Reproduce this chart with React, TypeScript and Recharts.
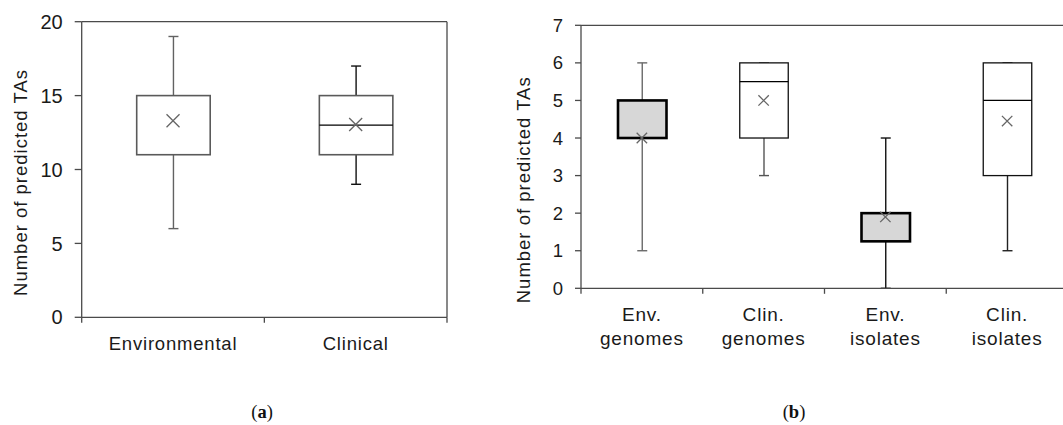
import { ComposedChart, Bar, Scatter, XAxis, YAxis, ReferenceLine } from 'recharts';

const FONT = '"Liberation Sans", Arial, sans-serif';
const AXIS = '#4a4a4a';

// (a) environmental vs clinical genomes
const catsA = ['Environmental', 'Clinical'];
const minA = [6, 9];
const q1A = [11, 11];
const medianA: (number | null)[] = [null, 13];
const q3A = [15, 15];
const maxA = [19, 17];
const meanA = [13.3, 13.05];
const ticksA = [0, 5, 10, 15, 20];

// (b) genomes vs isolates
const catsB = ['Env.\ngenomes', 'Clin.\ngenomes', 'Env.\nisolates', 'Clin.\nisolates'];
const minB = [1, 3, 0, 1];
const q1B = [4, 4, 1.25, 3];
const medianB: (number | null)[] = [4, 5.5, 2, 5];
const q3B = [5, 6, 2, 6];
const maxB = [6, 6, 4, 6];
const meanB = [4, 5, 1.9, 4.45];
const ticksB = [0, 1, 2, 3, 4, 5, 6, 7];

type BoxStyle = { fill: string; stroke: string; sw: number; whisker: string };

const plain: BoxStyle = { fill: '#ffffff', stroke: '#111', sw: 1.3, whisker: '#222' };
const shaded: BoxStyle = { fill: '#d7d7d7', stroke: '#000', sw: 2.6, whisker: '#111' };

const stylesA: BoxStyle[] = [
  { fill: '#ffffff', stroke: '#5a5a5a', sw: 1.6, whisker: '#626262' },
  { fill: '#ffffff', stroke: '#5a5a5a', sw: 1.6, whisker: '#111' },
];
const stylesB: BoxStyle[] = [
  { ...shaded, whisker: '#6a6a6a' },
  { ...plain, whisker: '#555' },
  shaded,
  plain,
];

function buildRows(
  cats: string[], min: number[], q1: number[], median: (number | null)[],
  q3: number[], max: number[], mean: number[],
) {
  return cats.map((name, i) => ({
    name, idx: i, range: [min[i], max[i]],
    min: min[i], q1: q1[i], median: median[i], q3: q3[i], max: max[i], mean: mean[i],
  }));
}

const rowsA = buildRows(catsA, minA, q1A, medianA, q3A, maxA, meanA);
const rowsB = buildRows(catsB, minB, q1B, medianB, q3B, maxB, meanB);

function makeBoxShape(styles: BoxStyle[], capHalf: number) {
  return (props: any) => {
    const { x, y, width, height, payload } = props;
    const top = Math.min(y, y + height);
    const h = Math.abs(height);
    const span = payload.max - payload.min;
    // bar spans [min, max]; map other stats through the same pixel scale
    const toY = (v: number) => top + ((payload.max - v) / span) * h;
    const cx = x + width / 2;
    const s = styles[payload.idx];
    const yMax = toY(payload.max);
    const yMin = toY(payload.min);
    const yQ3 = toY(payload.q3);
    const yQ1 = toY(payload.q1);
    return (
      <g>
        <line x1={cx} x2={cx} y1={yMax} y2={yMin} stroke={s.whisker} strokeWidth={1.4} />
        <line x1={cx - capHalf} x2={cx + capHalf} y1={yMax} y2={yMax} stroke={s.whisker} strokeWidth={1.4} />
        <line x1={cx - capHalf} x2={cx + capHalf} y1={yMin} y2={yMin} stroke={s.whisker} strokeWidth={1.4} />
        <rect x={x} y={yQ3} width={width} height={yQ1 - yQ3} fill={s.fill} stroke={s.stroke} strokeWidth={s.sw} />
        {payload.median != null && (
          <line x1={x} x2={x + width} y1={toY(payload.median)} y2={toY(payload.median)} stroke="#000" strokeWidth={1.3} />
        )}
      </g>
    );
  };
}

function makeCross(size: number) {
  return (props: any) => {
    const { cx, cy } = props;
    return (
      <path
        d={`M${cx - size},${cy - size}L${cx + size},${cy + size}M${cx + size},${cy - size}L${cx - size},${cy + size}`}
        stroke="#666" strokeWidth={1.3} fill="none"
      />
    );
  };
}

function makeXTick(count: number, fallbackHalf: number, fontSize: number) {
  return (props: any) => {
    const { x, y, payload, index } = props;
    const half = payload.offset || fallbackHalf;
    const lines = String(payload.value).split('\n');
    return (
      <g>
        <line x1={x - half} x2={x - half} y1={y} y2={y + 5.5} stroke={AXIS} strokeWidth={1.3} />
        {index === count - 1 && (
          <line x1={x + half} x2={x + half} y1={y} y2={y + 5.5} stroke={AXIS} strokeWidth={1.3} />
        )}
        {lines.map((t, i) => (
          <text key={i} x={x} y={y + 32.5 + i * 24} textAnchor="middle" fontFamily={FONT}
            fontSize={fontSize} letterSpacing={0.8} fill="#1a1a1a">
            {t}
          </text>
        ))}
      </g>
    );
  };
}

function yTitle(dx: number, dy: number) {
  return (p: any) => {
    const vb = p.viewBox || { x: 0, y: 0, height: 0 };
    const cy = vb.y + vb.height / 2 + dy;
    return (
      <text transform={`translate(${vb.x + dx},${cy}) rotate(-90)`} textAnchor="middle"
        dominantBaseline="central" fontFamily={FONT} fontSize={18.5} letterSpacing={1} fill="#1a1a1a">
        Number of predicted TAs
      </text>
    );
  };
}

const captionFont = '"Liberation Serif", "DejaVu Serif", serif';

export default function App() {
  return (
    <div style={{ position: 'fixed', left: 0, top: 0, width: 1063, height: 425, overflow: 'hidden', background: '#fff' }}>
      <div style={{ position: 'absolute', left: 0, top: 0 }}>
        <ComposedChart width={470} height={360} data={rowsA}
          margin={{ top: 21.7, right: 23, bottom: 0, left: 0 }}>
          <XAxis dataKey="name" height={42.7} interval={0} tickLine={false} tickSize={0} tickMargin={0}
            axisLine={{ stroke: AXIS, strokeWidth: 1.3 }} tick={makeXTick(catsA.length, 91.3, 18.5)} />
          <YAxis type="number" domain={[0, 20]} ticks={ticksA} width={81.7} tickSize={7} tickMargin={12}
            axisLine={{ stroke: AXIS, strokeWidth: 1.3 }} tickLine={{ stroke: AXIS, strokeWidth: 1.3 }}
            tick={{ fill: '#1a1a1a', fontSize: 20, fontFamily: FONT }}
            label={{ content: yTitle(20, 13) }} />
          <ReferenceLine y={20} stroke={AXIS} strokeWidth={1.3} />
          <ReferenceLine x="Clinical" position="end" stroke={AXIS} strokeWidth={1.3} />
          <Bar dataKey="range" barSize={73.5} shape={makeBoxShape(stylesA, 5)} isAnimationActive={false} />
          <Scatter dataKey="mean" shape={makeCross(6.5)} isAnimationActive={false} />
        </ComposedChart>
      </div>
      <div style={{ position: 'absolute', left: 470, top: 0 }}>
        <ComposedChart width={608} height={360} data={rowsB}
          margin={{ top: 25.3, right: 10, bottom: 0, left: 0 }}>
          <XAxis dataKey="name" height={71.7} interval={0} tickLine={false} tickSize={0} tickMargin={0}
            axisLine={{ stroke: AXIS, strokeWidth: 1.3 }} tick={makeXTick(catsB.length, 60.8, 19)} />
          <YAxis type="number" domain={[0, 7]} ticks={ticksB} width={111} tickSize={6} tickMargin={12}
            axisLine={{ stroke: AXIS, strokeWidth: 1.3 }} tickLine={{ stroke: AXIS, strokeWidth: 1.3 }}
            tick={{ fill: '#1a1a1a', fontSize: 18.5, fontFamily: FONT }}
            label={{ content: yTitle(53, 33) }} />
          <ReferenceLine y={7} stroke={AXIS} strokeWidth={1.3} />
          <Bar dataKey="range" barSize={48.5} shape={makeBoxShape(stylesB, 5)} isAnimationActive={false} />
          <Scatter dataKey="mean" shape={makeCross(5.2)} isAnimationActive={false} />
        </ComposedChart>
      </div>
      <svg width={1063} height={425} style={{ position: 'absolute', left: 0, top: 0, pointerEvents: 'none' }}>
        <text x={262} y={418} textAnchor="middle" fontFamily={captionFont} fontSize={18.5} fill="#111">
          (<tspan fontWeight="bold">a</tspan>)
        </text>
        <text x={794} y={418} textAnchor="middle" fontFamily={captionFont} fontSize={18.5} fill="#111">
          (<tspan fontWeight="bold">b</tspan>)
        </text>
      </svg>
    </div>
  );
}
